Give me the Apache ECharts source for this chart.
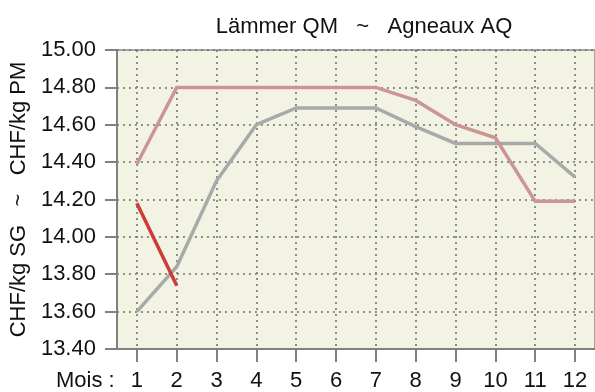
<!DOCTYPE html>
<html>
<head>
<meta charset="utf-8">
<script src="https://cdn.jsdelivr.net/npm/echarts@6/dist/echarts.min.js"></script>
<style>
  html, body { margin: 0; padding: 0; background: #ffffff; }
  #chart { width: 595px; height: 392px; }
</style>
</head>
<body>
<div id="chart"></div>
<script>
// Monthly lamb prices (CHF/kg)
const months = ['1', '2', '3', '4', '5', '6', '7', '8', '9', '10', '11', '12'];
const greySeries = [13.60, 13.84, 14.30, 14.60, 14.69, 14.69, 14.69, 14.59, 14.50, 14.50, 14.50, 14.32];
const pinkSeries = [14.39, 14.80, 14.80, 14.80, 14.80, 14.80, 14.80, 14.73, 14.60, 14.53, 14.19, 14.19];
const redSeries = [14.18, 13.74];
const titleText = 'Lämmer QM   ~   Agneaux AQ';
const yAxisTitle = 'CHF/kg SG   ~   CHF/kg PM';
const xAxisTitle = 'Mois :';

const FONT = 'Liberation Sans, Arial, sans-serif';
const chart = echarts.init(document.getElementById('chart'), null, { renderer: 'canvas' });

const lineSeries = (name, data, color, z) => ({
  name: name,
  type: 'line',
  data: data,
  symbol: 'none',
  z: z,
  lineStyle: { color: color, width: 3.5, cap: 'butt', join: 'miter' }
});

chart.setOption({
  animation: false,
  textStyle: { fontFamily: FONT },
  title: {
    text: titleText,
    left: 359,
    top: 11,
    textAlign: 'center',
    textStyle: { fontFamily: FONT, fontSize: 22, fontWeight: 'normal', color: '#111' }
  },
  grid: {
    left: 115,
    top: 50,
    width: 488,
    height: 300,
    show: true,
    backgroundColor: '#f3f3e3',
    borderColor: '#8c8c8c',
    borderWidth: 1.5
  },
  xAxis: {
    type: 'category',
    data: months,
    boundaryGap: true,
    axisLine: { show: true, lineStyle: { color: '#808080', width: 2 } },
    axisTick: { show: true, alignWithLabel: true, length: 13, lineStyle: { color: '#808080', width: 2 } },
    axisLabel: { fontFamily: FONT, fontSize: 22, color: '#111', margin: 21 },
    splitLine: { show: true, alignWithLabel: true, lineStyle: { color: '#6e6e6e', width: 1.5, type: [2, 4] } }
  },
  yAxis: {
    type: 'value',
    min: 13.4,
    max: 15.0,
    interval: 0.2,
    name: yAxisTitle,
    nameLocation: 'middle',
    nameRotate: 90,
    nameGap: 82,
    nameTextStyle: { fontFamily: FONT, fontSize: 22, color: '#111' },
    axisLine: { show: true, lineStyle: { color: '#808080', width: 2 } },
    axisTick: { show: true, length: 12, lineStyle: { color: '#808080', width: 2 } },
    axisLabel: {
      fontFamily: FONT, fontSize: 22, color: '#111', margin: 21,
      formatter: v => v.toFixed(2)
    },
    splitLine: { show: true, lineStyle: { color: '#6e6e6e', width: 1.5, type: [2, 4] } }
  },
  graphic: [{
    type: 'text',
    left: 56,
    top: 370,
    style: { text: xAxisTitle, fontFamily: FONT, fontSize: 22, fill: '#111' }
  }],
  series: [
    lineSeries('grey', greySeries, '#a9a9a9', 2),
    lineSeries('pink', pinkSeries, '#cc9595', 3),
    lineSeries('red', redSeries, '#cc3a3a', 4)
  ]
});
</script>
</body>
</html>
